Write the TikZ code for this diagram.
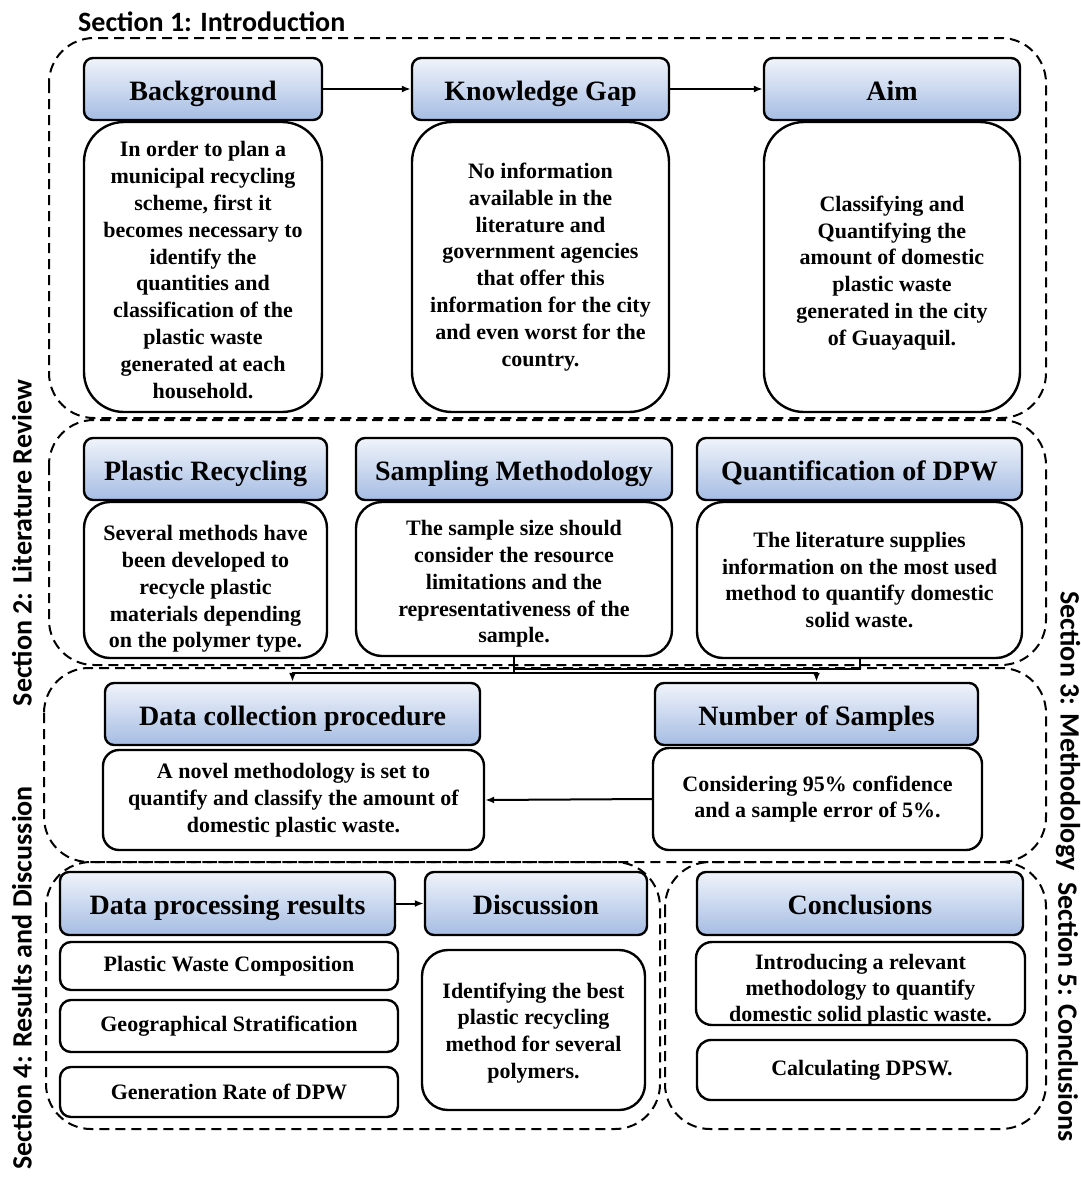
\documentclass[tikz,border=0pt]{standalone}
\usepackage{fontspec}
\setmainfont{Liberation Serif}
\newfontfamily\secfont{Carlito}
\usetikzlibrary{arrows.meta}
\definecolor{hdrtop}{RGB}{240,244,251}
\definecolor{hdrbot}{RGB}{165,188,227}
\tikzset{
  hdr/.style={draw=black, line width=2.4pt, rounded corners=9pt, top color=hdrtop, bottom color=hdrbot,
    inner sep=0pt, text height=22pt, text depth=0pt, font=\fontsize{28}{32}\selectfont\bfseries},
  bodybox/.style={draw=black, line width=2.4pt, fill=white, inner sep=0pt, align=center,
    font=\fontsize{22}{26.8}\selectfont\bfseries},
  bodytext/.style={inner sep=0pt, align=center, font=\fontsize{22}{26.8}\selectfont\bfseries},
  secbox/.style={draw=black, line width=2pt, dash pattern=on 10pt off 6pt, rounded corners=45pt},
  seclabel/.style={font=\secfont\bfseries\fontsize{28}{32}\selectfont, inner sep=0pt},
  conn/.style={line width=2pt, -{Latex[length=9pt,width=7pt]}},
  plainline/.style={line width=2pt},
}
\begin{document}
\begin{tikzpicture}[x=1pt,y=1pt]
\useasboundingbox[fill=white] (0,0) rectangle (1081,-1178);

% section frames
\draw[secbox] (49,-38) rectangle (1046,-418);
\draw[secbox] (49,-420) rectangle (1046,-665);
\draw[secbox] (44,-668) rectangle (1046,-862);
\draw[secbox] (46,-862) rectangle (660,-1129);
\draw[secbox] (665,-862) rectangle (1046,-1129);

% section labels
\node[seclabel, anchor=west] (s1) at (78,-22) {Section 1: Introduction};
\node[seclabel, rotate=90] (s2) at (22,-543) {Section 2: Literature Review};
\node[seclabel, rotate=90] (s4) at (22,-978) {Section 4: Results and Discussion};
\node[seclabel, rotate=-90] (s3) at (1068,-731) {Section 3: Methodology};
\node[seclabel, rotate=-90] (s5) at (1068,-1012) {Section 5: Conclusions};

% Row 1
\node[bodybox, rounded corners=40pt, minimum width=238pt, minimum height=290pt] (bgb) at (203,-267) {};
\node[bodytext] (bgt) at (203,-270)
  {In order to plan a\\municipal recycling\\scheme, first it\\becomes necessary to\\identify the\\quantities and\\classification of the\\plastic waste\\generated at each\\household.};
\node[bodybox, rounded corners=40pt, minimum width=257pt, minimum height=290pt] (kgb) at (540.5,-267)
  {No information\\available in the\\literature and\\government agencies\\that offer this\\information for the city\\and even worst for the\\country.};
\node[bodybox, rounded corners=40pt, minimum width=256pt, minimum height=290pt] (aimb) at (892,-267) {};
\node[bodytext] (aimt) at (892,-273)
  {Classifying and\\Quantifying the\\amount of domestic\\plastic waste\\generated in the city\\of Guayaquil.};
\node[hdr, minimum width=238pt, minimum height=62pt] (bg) at (203,-89) {Background};
\node[hdr, minimum width=257pt, minimum height=62pt] (kg) at (540.5,-89) {Knowledge Gap};
\node[hdr, minimum width=256pt, minimum height=62pt] (aim) at (892,-89) {Aim};
\draw[conn] (bg.east) -- (kg.west);
\draw[conn] (kg.east) -- (aim.west);

% Row 2
\node[bodybox, rounded corners=26pt, minimum width=243pt, minimum height=156pt] (prb) at (205.5,-580) {};
\node[bodytext] (prt) at (205.5,-589)
  {Several methods have\\been developed to\\recycle plastic\\materials depending\\on the polymer type.};
\node[bodybox, rounded corners=26pt, minimum width=316pt, minimum height=154pt] (smb) at (514,-579) {};
\node[bodytext] (smt) at (514,-584)
  {The sample size should\\consider the resource\\limitations and the\\representativeness of the\\sample.};
\node[bodybox, rounded corners=26pt, minimum width=325pt, minimum height=156pt] (qdb) at (859.5,-580)
  {The literature supplies\\information on the most used\\method to quantify domestic\\solid waste.};
\node[hdr, minimum width=243pt, minimum height=62pt] (pr) at (205.5,-469) {Plastic Recycling};
\node[hdr, minimum width=316pt, minimum height=62pt] (sm) at (514,-469) {Sampling Methodology};
\node[hdr, minimum width=325pt, minimum height=62pt] (qd) at (859.5,-469) {Quantification of DPW};

% Row 3
\node[bodybox, rounded corners=16pt, minimum width=381pt, minimum height=100pt] (dcb) at (293.5,-800)
  {A novel methodology is set to\\quantify and classify the amount of\\domestic plastic waste.};
\node[bodybox, rounded corners=16pt, minimum width=329pt, minimum height=102pt] (nosb) at (817.5,-799)
  {Considering 95\% confidence\\and a sample error of 5\%.};
\node[hdr, minimum width=375pt, minimum height=62pt] (dc) at (292.5,-714) {Data collection procedure};
\node[hdr, minimum width=323pt, minimum height=62pt] (nos) at (816.5,-714) {Number of Samples};

\coordinate (jn) at (514,-673);
\coordinate (qj) at (514,-669);
\draw[conn] (smb.south) |- (dc.north |- jn) -- (dc.north);
\draw[conn] (smb.south) |- (nos.north |- jn) -- (nos.north);
\draw[plainline] (qdb.south) |- (qj);
\draw[conn] (nosb.west) -- (dcb.east);

% Row 4
\node[hdr, minimum width=335pt, minimum height=63pt] (dpr) at (227.5,-903.5) {Data processing results};
\node[hdr, minimum width=222pt, minimum height=63pt] (disc) at (536,-903.5) {Discussion};
\node[hdr, minimum width=326pt, minimum height=63pt] (conc) at (860,-903.5) {Conclusions};
\draw[conn] (dpr.east) -- (disc.west);

\node[bodybox, rounded corners=11pt, minimum width=338pt, minimum height=48pt] (pwc) at (229,-966) {Plastic Waste Composition};
\node[bodybox, rounded corners=11pt, minimum width=338pt, minimum height=52pt] (gs) at (229,-1026) {Geographical Stratification};
\node[bodybox, rounded corners=11pt, minimum width=338pt, minimum height=50pt] (gr) at (229,-1092) {Generation Rate of DPW};
\node[bodybox, rounded corners=26pt, minimum width=223pt, minimum height=160pt] (discb) at (533.5,-1030) {};
\node[bodytext] (disct) at (533.5,-1033)
  {Identifying the best\\plastic recycling\\method for several\\polymers.};
\node[bodybox, rounded corners=16pt, minimum width=329pt, minimum height=83pt] (introb) at (860.5,-983.5) {};
\node[font=\fontsize{22}{26.3}\selectfont\bfseries, align=center, inner sep=0pt] (introt) at (860.5,-990)
  {Introducing a relevant\\methodology to quantify\\domestic solid plastic waste.};
\node[bodybox, rounded corners=14pt, minimum width=330pt, minimum height=60pt] (calc) at (862,-1070) {Calculating DPSW.};
\end{tikzpicture}
\end{document}
